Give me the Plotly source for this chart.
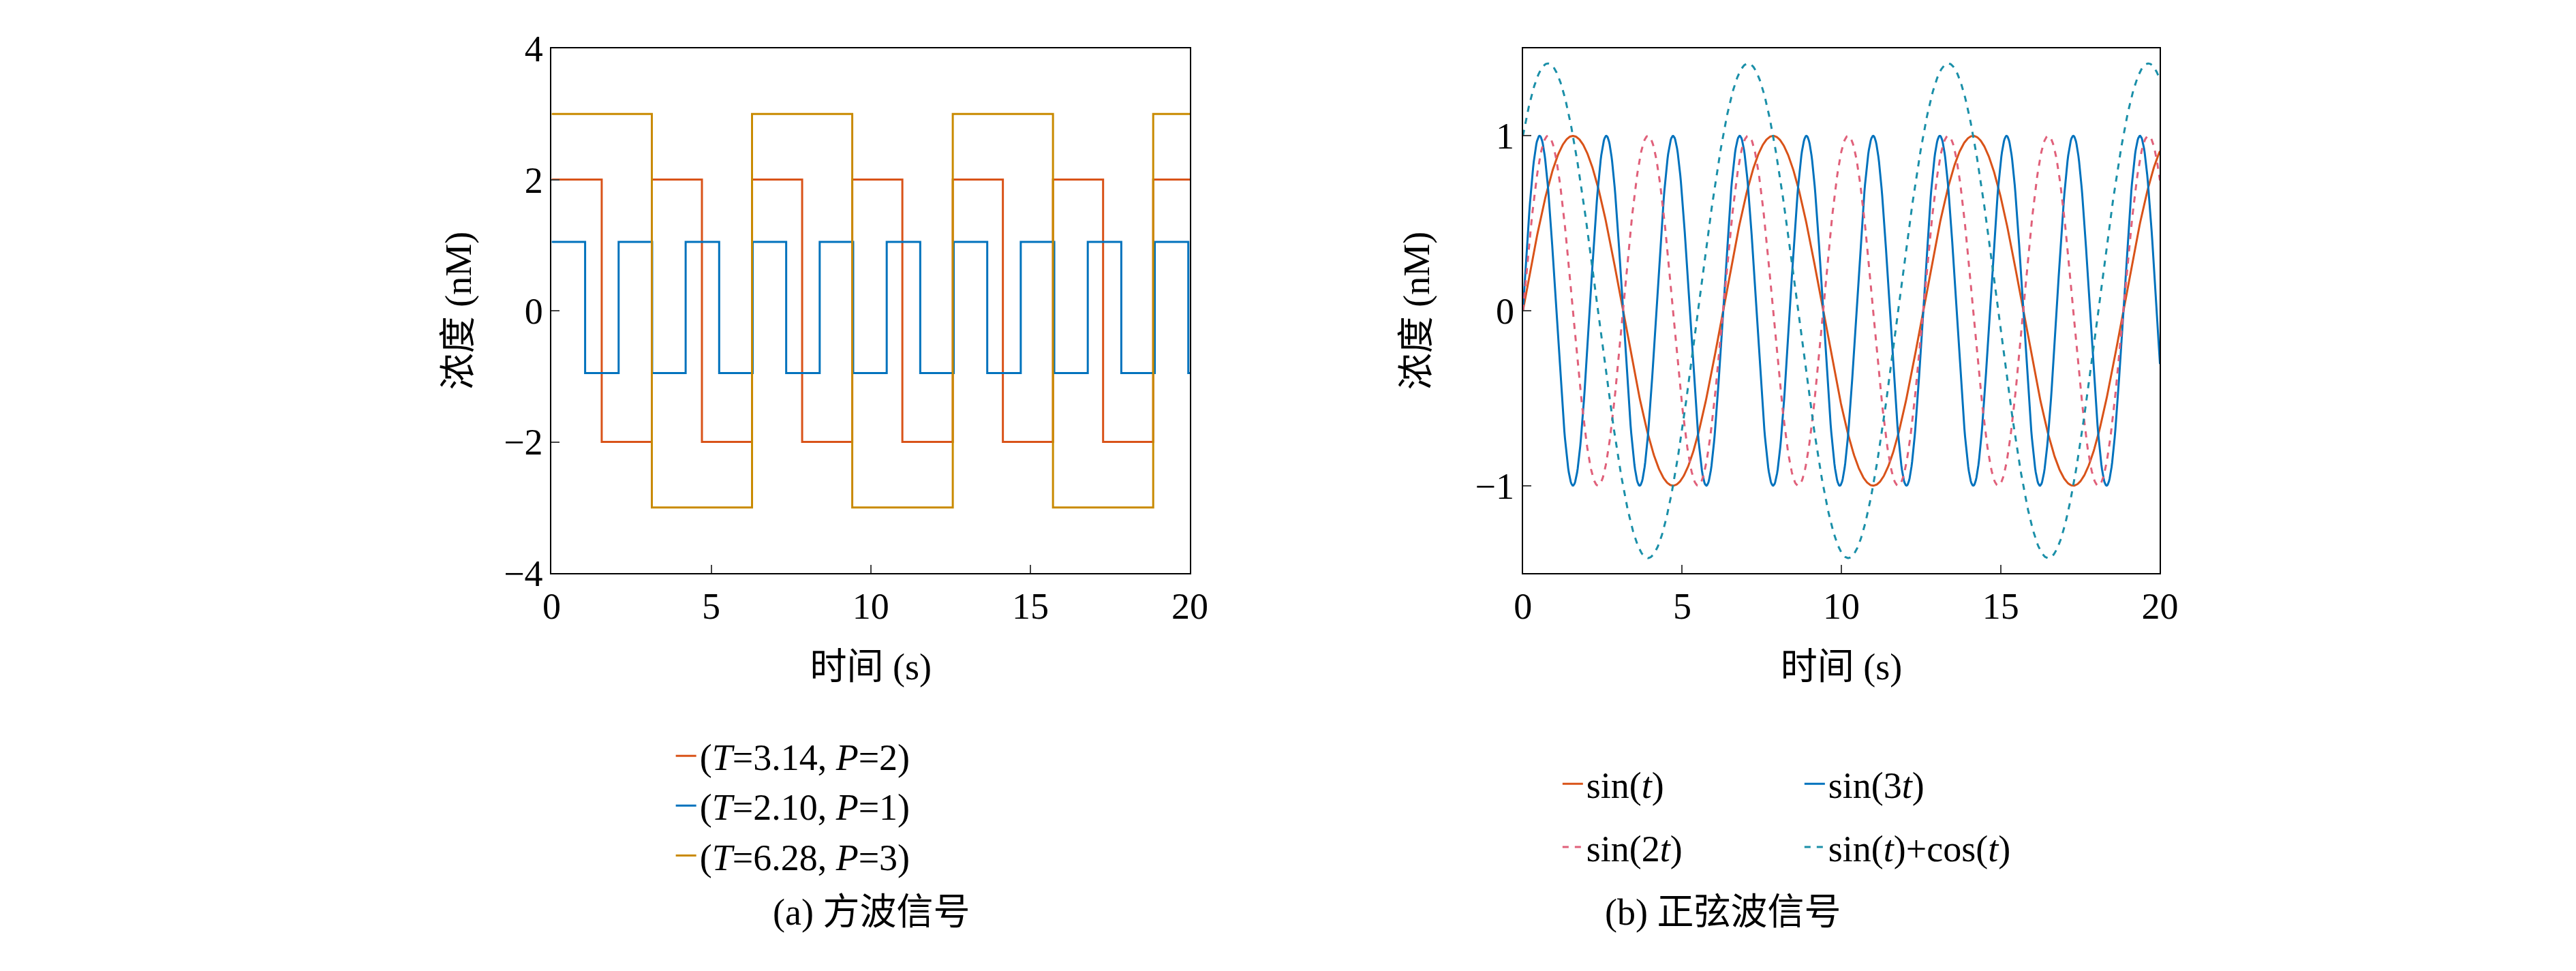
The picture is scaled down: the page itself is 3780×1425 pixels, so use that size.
import numpy as np
import plotly.graph_objects as go

# square wave switch times and levels
t_red = [0, 1.57, 3.14, 4.71, 6.28, 7.85, 9.42, 10.99, 12.57, 14.14, 15.71, 17.28, 18.85, 20]
v_red = [2, -2, 2, -2, 2, -2, 2, -2, 2, -2, 2, -2, 2, 2]
t_blue = [0, 1.05, 2.10, 3.15, 4.20, 5.25, 6.30, 7.35, 8.40, 9.45, 10.50, 11.55,
          12.60, 13.65, 14.70, 15.75, 16.80, 17.85, 18.90, 19.95, 20]
v_blue = [1.05, -0.95, 1.05, -0.95, 1.05, -0.95, 1.05, -0.95, 1.05, -0.95, 1.05, -0.95,
          1.05, -0.95, 1.05, -0.95, 1.05, -0.95, 1.05, -0.95, -0.95]
t_org = [0, 3.14, 6.28, 9.42, 12.57, 15.71, 18.85, 20]
v_org = [3, -3, 3, -3, 3, -3, 3, 3]
sq_names = ["(<i>T</i>=3.14, <i>P</i>=2)", "(<i>T</i>=2.10, <i>P</i>=1)", "(<i>T</i>=6.28, <i>P</i>=3)"]

# sine curves (functions named in the legend)
t = np.linspace(0, 20, 1001)
sin_names = ["sin(<i>t</i>)", "sin(3<i>t</i>)", "sin(2<i>t</i>)", "sin(<i>t</i>)+cos(<i>t</i>)"]

RED, BLUE, ORG = "#D95319", "#0072BD", "#C98A00"
FONT = "Liberation Serif, Noto Sans CJK SC"
FS = 54

fig = go.Figure()
for x, y, c, n in [(t_red, v_red, RED, sq_names[0]), (t_blue, v_blue, BLUE, sq_names[1]),
                   (t_org, v_org, ORG, sq_names[2])]:
    fig.add_trace(go.Scatter(x=x, y=y, mode="lines", line=dict(color=c, width=3, shape="hv"),
                             name=n, xaxis="x", yaxis="y", legend="legend"))

curves = [(np.sin(t), RED, "solid", sin_names[0], "legend2"),
          (np.sin(3 * t), BLUE, "solid", sin_names[1], "legend2"),
          (np.sin(2 * t), "#E0607A", "dash", sin_names[2], "legend3"),
          (np.sin(t) + np.cos(t), "#1A8FA8", "dash", sin_names[3], "legend3")]
for y, c, d, n, lg in curves:
    fig.add_trace(go.Scatter(x=t, y=y, mode="lines", line=dict(color=c, width=3, dash=d),
                             name=n, xaxis="x2", yaxis="y2", legend=lg))

ax = dict(showline=True, linecolor="black", linewidth=2, mirror=True, ticks="inside",
          ticklen=12, tickwidth=2, showgrid=False, zeroline=False,
          tickfont=dict(size=FS), title_font=dict(size=FS))
lg_common = dict(bgcolor="rgba(0,0,0,0)", font=dict(size=FS))
fig.update_layout(
    width=3780, height=1425, paper_bgcolor="white", plot_bgcolor="white",
    font=dict(family=FONT, size=FS, color="black"),
    margin=dict(l=0, r=0, t=0, b=0),
    xaxis=dict(ax, domain=[0.2106, 0.4611], range=[0, 20], dtick=5, anchor="y",
               title=dict(text="时间 (s)", standoff=40)),
    yaxis=dict(ax, domain=[0.411, 0.975], range=[-4, 4], dtick=2, anchor="x",
               title=dict(text="浓度 (nM)", standoff=30)),
    xaxis2=dict(ax, domain=[0.5918, 0.8418], range=[0, 20], dtick=5, anchor="y2",
                title=dict(text="时间 (s)", standoff=40)),
    yaxis2=dict(ax, domain=[0.411, 0.975], range=[-1.5, 1.5], tickvals=[-1, 0, 1], anchor="x2",
                title=dict(text="浓度 (nM)", standoff=50)),
    legend=dict(lg_common, x=0.258, xanchor="left", y=0.245, yanchor="top", tracegroupgap=0),
    legend2=dict(lg_common, x=0.606, xanchor="left", y=0.215, yanchor="top",
                 orientation="h", entrywidth=310, entrywidthmode="pixels"),
    legend3=dict(lg_common, x=0.606, xanchor="left", y=0.147, yanchor="top",
                 orientation="h", entrywidth=310, entrywidthmode="pixels"),
    annotations=[
        dict(text="(a) 方波信号", x=0.336, y=0.023, xref="paper", yref="paper",
             showarrow=False, font=dict(size=FS)),
        dict(text="(b) 正弦波信号", x=0.717, y=0.023, xref="paper", yref="paper",
             showarrow=False, font=dict(size=FS)),
    ],
)
fig.write_html("out.html")
